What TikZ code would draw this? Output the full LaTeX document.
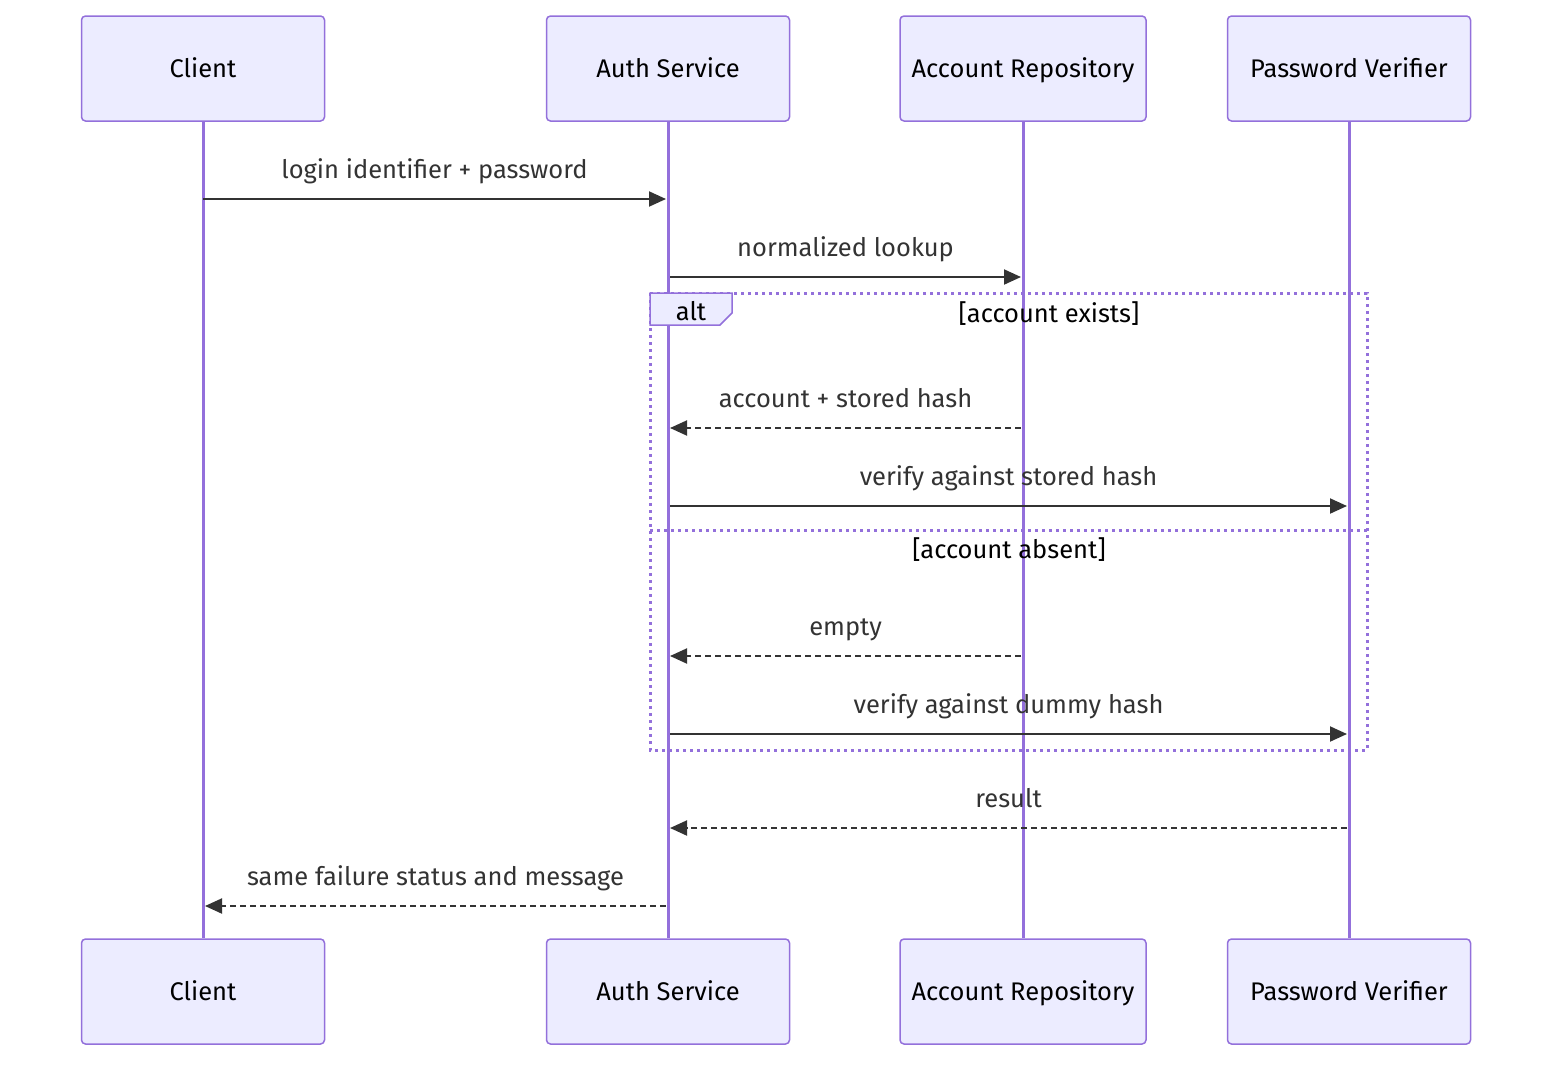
\documentclass[tikz,border=0pt]{standalone}
\usepackage{fontspec}
\setmainfont{Fira Sans}
\usetikzlibrary{arrows.meta}
\definecolor{boxfill}{HTML}{ECECFF}
\definecolor{boxline}{HTML}{9370DB}
\definecolor{msg}{HTML}{333333}
\tikzset{
  actor/.style={draw=boxline, fill=boxfill, line width=1.5pt, rounded corners=4pt, minimum width=243pt, minimum height=105pt, inner sep=0pt, font=\fontsize{25.5}{30}\selectfont, text=black},
  atext/.style={font=\fontsize{25.5}{30}\selectfont, text=black, inner sep=0pt, anchor=base},
  life/.style={draw=boxline, line width=3pt},
  msgline/.style={draw=msg, line width=2pt, -{Triangle[length=17pt,width=15pt]}},
  reply/.style={msgline, dash pattern=on 6pt off 4pt},
  lbl/.style={font=\fontsize{25.5}{30}\selectfont, text=msg, inner sep=0pt, anchor=base},
  cond/.style={font=\fontsize{25.5}{30}\selectfont, text=black, inner sep=0pt, anchor=base},
  frame/.style={draw=boxline, line width=3pt, dash pattern=on 3pt off 4pt},
}
\begin{document}
\begin{tikzpicture}[x=1pt,y=-1pt]
\useasboundingbox (0,0) rectangle (1568,1074);
% actors top
\node[actor] (c1) at (203,68.5) {};
\node[actor] (a1) at (668,68.5) {};
\node[actor, minimum width=246pt] (r1) at (1023,68.5) {};
\node[actor] (p1) at (1349,68.5) {};
\node[atext] at (203,77) {Client};
\node[atext] at (668,77) {Auth Service};
\node[atext] at (1023,77) {Account Repository};
\node[atext] at (1349,77) {Password Verifier};
% actors bottom
\node[actor] (c2) at (203,991.5) {};
\node[actor] (a2) at (668,991.5) {};
\node[actor, minimum width=246pt] (r2) at (1023,991.5) {};
\node[actor] (p2) at (1349,991.5) {};
\node[atext] at (203,1000) {Client};
\node[atext] at (668,1000) {Auth Service};
\node[atext] at (1023,1000) {Account Repository};
\node[atext] at (1349,1000) {Password Verifier};
% lifelines
\draw[life] (c1.south) -- (c2.north);
\draw[life] (a1.south) -- (a2.north);
\draw[life] (r1.south) -- (r2.north);
\draw[life] (p1.south) -- (p2.north);
% coordinates on lifelines
\coordinate (cA) at (203,199); \coordinate (aA) at (666,199);
\coordinate (aB) at (670,277); \coordinate (rB) at (1021,277);
\coordinate (rC) at (1021,428); \coordinate (aC) at (670,428);
\coordinate (aD) at (670,506); \coordinate (pD) at (1347,506);
\coordinate (rE) at (1021,656); \coordinate (aE) at (670,656);
\coordinate (aF) at (670,734); \coordinate (pF) at (1347,734);
\coordinate (pG) at (1347,828); \coordinate (aG) at (670,828);
\coordinate (aH) at (666,906); \coordinate (cH) at (205,906);
% alt frame
\draw[frame] (650,293) rectangle (1367,750);
\draw[frame] (650,530) -- (1367,530);
\draw[draw=boxline, fill=boxfill, line width=1.5pt] (650,293) -- (732,293) -- (732,313) -- (720,325) -- (650,325) -- cycle;
\node[cond] (alt) at (691,320) {alt};
\node[cond] (c1t) at (1049,322) {[account exists]};
\node[cond] (c2t) at (1009,558) {[account absent]};
% messages
\draw[msgline] (cA) -- (aA) node[lbl, midway, yshift=21pt] {login identifier + password};
\draw[msgline] (aB) -- (rB) node[lbl, midway, yshift=21pt] {normalized lookup};
\draw[reply] (rC) -- (aC) node[lbl, midway, yshift=21pt] {account + stored hash};
\draw[msgline] (aD) -- (pD) node[lbl, midway, yshift=21pt] {verify against stored hash};
\draw[reply] (rE) -- (aE) node[lbl, midway, yshift=21pt] {empty};
\draw[msgline] (aF) -- (pF) node[lbl, midway, yshift=21pt] {verify against dummy hash};
\draw[reply] (pG) -- (aG) node[lbl, midway, yshift=21pt] {result};
\draw[reply] (aH) -- (cH) node[lbl, midway, yshift=21pt] {same failure status and message};
\end{tikzpicture}
\end{document}
